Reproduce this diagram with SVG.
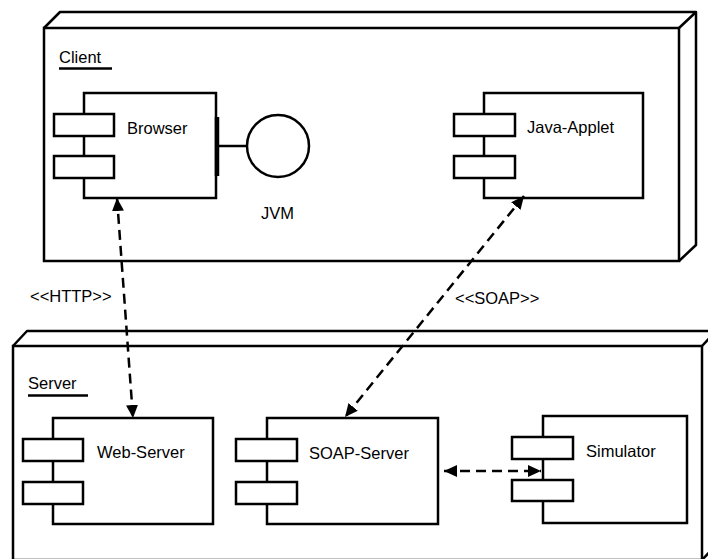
<svg xmlns="http://www.w3.org/2000/svg" width="708" height="559" viewBox="0 0 708 559">
  <style>
    .box { fill: #fff; stroke: #000; stroke-width: 2.5; }
    .edge { fill: none; stroke: #000; stroke-width: 2.5; stroke-linejoin: round; }
    .lbl { font-family: "Liberation Sans", Arial, sans-serif; font-size: 16.5px; fill: #000; }
    .dash { fill: none; stroke: #000; stroke-width: 2.5; stroke-dasharray: 10 6; }
  </style>
  <defs>
    <marker id="head" viewBox="0 0 13 12" refX="13" refY="6" markerWidth="13" markerHeight="12" markerUnits="userSpaceOnUse" orient="auto-start-reverse">
      <path d="M0,0 L13,6 L0,12 Z" fill="#000"/>
    </marker>
  </defs>

  <rect width="708" height="559" fill="#fff"/>

  <!-- Client node (3D box) -->
  <g id="client">
    <path class="edge" d="M44,28 L60,12 L696,12 L696,245 L679,261 M679,28 L696,12"/>
    <rect class="box" x="44" y="28" width="635" height="233"/>
    <text class="lbl" x="59" y="63">Client</text>
    <line class="edge" x1="59" y1="68.5" x2="112" y2="68.5"/>
  </g>

  <!-- Server node (3D box) -->
  <g id="server">
    <path class="edge" d="M13,346 L27,331 L716,331 L716,545 L702,560 M702,346 L716,331"/>
    <rect class="box" x="13" y="346" width="689" height="214"/>
    <text class="lbl" x="28" y="389">Server</text>
    <line class="edge" x1="28" y1="395.5" x2="88" y2="395.5"/>
  </g>

  <!-- Browser component with JVM interface -->
  <g id="browser">
    <rect class="box" x="84" y="93" width="132" height="105"/>
    <rect class="box" x="54" y="114" width="60" height="22"/>
    <rect class="box" x="54" y="156" width="60" height="22"/>
    <text class="lbl" x="127" y="134">Browser</text>
  </g>

  <g id="jvm">
    <line class="edge" x1="217" y1="117" x2="217" y2="176" style="stroke-width:4.5"/>
    <line class="edge" x1="218" y1="146" x2="247" y2="146"/>
    <circle class="box" cx="278" cy="146" r="31"/>
    <text class="lbl" x="261" y="219">JVM</text>
  </g>

  <!-- Java-Applet component -->
  <g id="java-applet">
    <rect class="box" x="484" y="93" width="159" height="105"/>
    <rect class="box" x="454" y="114" width="61" height="22"/>
    <rect class="box" x="454" y="156" width="61" height="22"/>
    <text class="lbl" x="527" y="133">Java-Applet</text>
  </g>

  <!-- Web-Server component -->
  <g id="web-server">
    <rect class="box" x="53" y="418" width="160" height="106"/>
    <rect class="box" x="23" y="439" width="60" height="22"/>
    <rect class="box" x="23" y="482" width="60" height="22"/>
    <text class="lbl" x="97" y="458">Web-Server</text>
  </g>

  <!-- SOAP-Server component -->
  <g id="soap-server">
    <rect class="box" x="267" y="418" width="171" height="106"/>
    <rect class="box" x="236" y="439" width="61" height="22"/>
    <rect class="box" x="236" y="482" width="61" height="22"/>
    <text class="lbl" x="309" y="459">SOAP-Server</text>
  </g>

  <!-- Simulator component -->
  <g id="simulator">
    <rect class="box" x="543" y="416" width="144" height="107"/>
    <rect class="box" x="512" y="437" width="61" height="22"/>
    <rect class="box" x="512" y="480" width="61" height="21"/>
    <text class="lbl" x="586" y="457">Simulator</text>
  </g>

  <!-- Connectors -->
  <g id="connectors">
    <line class="dash" x1="117" y1="198" x2="133" y2="418" marker-start="url(#head)" marker-end="url(#head)"/>
    <line class="dash" x1="524" y1="196" x2="345" y2="417" marker-start="url(#head)" marker-end="url(#head)"/>
    <line class="dash" x1="444" y1="471" x2="541" y2="471" marker-start="url(#head)" marker-end="url(#head)"/>
    <text class="lbl" x="30" y="302">&lt;&lt;HTTP&gt;&gt;</text>
    <text class="lbl" x="455" y="304">&lt;&lt;SOAP&gt;&gt;</text>
  </g>
</svg>
